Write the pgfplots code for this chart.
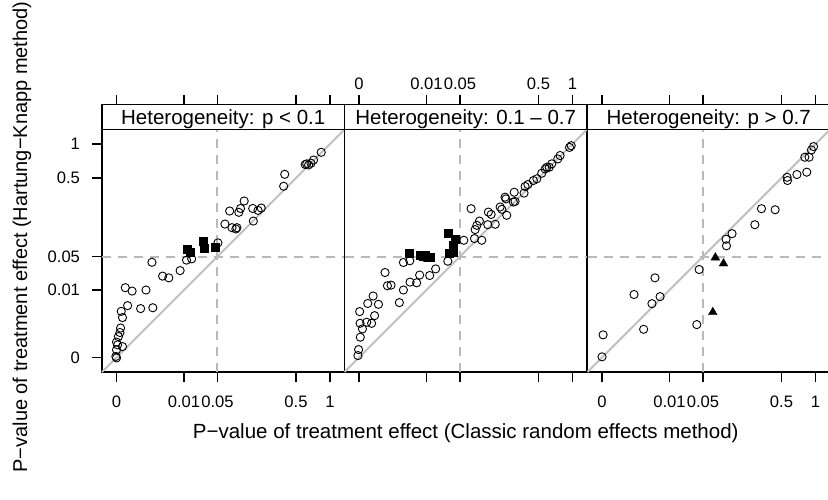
\documentclass[border=0pt]{standalone}
\usepackage{pgfplots}
\pgfplotsset{compat=1.18}
\usepackage{fontspec}
\setmainfont{Liberation Sans}
% All coordinates are on the fourth-root scale: t = p^(1/4)
% tick positions: 0 -> 0, 0.01 -> 0.3162, 0.05 -> 0.4729, 0.5 -> 0.8409, 1 -> 1
\begin{document}
\begin{tikzpicture}
\useasboundingbox (0pt,0pt) rectangle (828pt,499pt);
\pgfplotsset{
  panel/.style={
    scale only axis, width=242.5pt, height=267.5pt,
    xmin=-0.068, xmax=1.068, ymin=-0.068, ymax=1.185,
    anchor=south west, clip=false,
    axis line style={line width=1.1pt},
    tick align=outside, major tick length=9.5pt,
    tick style={black, line width=1.1pt},
    xtick={0,0.3162,0.4729,0.8409,1},
    xticklabels={0,0.01,0.05,0.5,1},
    ytick={0,0.3162,0.4729,0.8409,1},
    yticklabels={0,0.01,0.05,0.5,1},
    tick label style={font=\fontsize{16.6}{18}\selectfont},
    yticklabel style={xshift=-9pt},
  },
  circ/.style={only marks, mark=o, mark size=4.1pt, mark options={black, line width=0.9pt}},
  sq/.style={only marks, mark=square*, mark size=4pt, mark options={black, fill=black}},
  tri/.style={only marks, mark=triangle*, mark size=5pt, mark options={black, fill=black}},
  diag/.style={color=black!25, line width=2pt},
  dash/.style={color=black!27, line width=2pt, dash pattern=on 9pt off 7pt},
}
\newcommand{\refl}{%
  \addplot[diag] coordinates {(-0.068,-0.068) (1.068,1.068)};
  \addplot[dash] coordinates {(0.4729,-0.068) (0.4729,1.068)};
  \addplot[dash] coordinates {(-0.068,0.4729) (1.068,0.4729)};
  \draw[line width=1.1pt] (axis cs:-0.068,1.068) -- (axis cs:1.068,1.068);
}
\newcommand{\striplabel}[1]{\node[anchor=base, font=\fontsize{20.5}{24}\selectfont] at (axis cs:0.5,1.091) {#1};}

% ---------- Left panel ----------
\begin{axis}[panel, at={(102pt,127pt)}, xtick pos=both, xticklabel pos=lower, ytick pos=left,
  xticklabel style={yshift=-11pt}]
\refl
\addplot[circ] table {
x y
0.959 0.961
0.923 0.925
0.891 0.907
0.900 0.902
0.911 0.910
0.884 0.904
0.788 0.858
0.783 0.802
0.598 0.733
0.581 0.698
0.573 0.680
0.530 0.686
0.638 0.698
0.663 0.689
0.678 0.700
0.641 0.639
0.508 0.625
0.541 0.608
0.559 0.602
0.564 0.608
0.475 0.537
0.352 0.462
0.328 0.456
0.298 0.407
0.245 0.373
0.216 0.381
0.166 0.446
0.041 0.327
0.073 0.311
0.138 0.316
0.052 0.243
0.113 0.229
0.170 0.233
0.022 0.216
0.028 0.187
0.019 0.138
0.016 0.117
0.009 0.098
0.000 0.072
0.005 0.059
0.028 0.051
0.000 0.036
-0.003 0.005
0.000 -0.002
};
\addplot[sq] table {
x y
0.408 0.543
0.333 0.507
0.344 0.493
0.413 0.513
0.464 0.515
};
\striplabel{Heterogeneity: p < 0.1}
\end{axis}

% ---------- Middle panel ----------
\begin{axis}[panel, at={(344.5pt,127pt)}, xtick pos=both, xticklabel pos=upper, ytick=\empty,
  xticklabel style={yshift=2pt}]
\refl
\addplot[circ] table {
x y
0.994 0.992
0.986 0.984
0.942 0.946
0.931 0.930
0.903 0.907
0.891 0.891
0.872 0.883
0.880 0.891
0.856 0.863
0.833 0.837
0.817 0.829
0.791 0.810
0.778 0.801
0.773 0.770
0.727 0.774
0.731 0.731
0.723 0.728
0.684 0.751
0.688 0.743
0.669 0.694
0.661 0.705
0.692 0.666
0.638 0.624
0.619 0.670
0.606 0.681
0.603 0.622
0.564 0.639
0.552 0.619
0.544 0.599
0.541 0.557
0.575 0.549
0.491 0.549
0.525 0.697
0.416 0.451
0.359 0.415
0.331 0.384
0.284 0.386
0.270 0.350
0.239 0.353
0.208 0.316
0.189 0.257
0.238 0.453
0.208 0.445
0.309 0.468
0.122 0.398
0.133 0.336
0.150 0.339
0.066 0.288
0.041 0.253
0.091 0.249
0.003 0.215
0.073 0.196
0.059 0.160
0.036 0.165
0.005 0.160
0.016 0.134
0.006 0.095
-0.002 0.037
-0.005 0.009
};
\addplot[sq] table {
x y
0.416 0.580
0.450 0.552
0.439 0.526
0.442 0.495
0.422 0.490
0.236 0.487
0.286 0.481
0.309 0.477
0.333 0.471
0.302 0.474
};
\striplabel{Heterogeneity: 0.1 – 0.7}
\end{axis}

% ---------- Right panel ----------
\begin{axis}[panel, at={(587.5pt,127pt)}, xtick pos=both, xticklabel pos=lower, ytick=\empty,
  xticklabel style={yshift=-11pt}]
\refl
\addplot[circ] table {
x y
0.991 0.988
0.981 0.972
0.950 0.938
0.970 0.938
0.867 0.844
0.869 0.829
0.913 0.857
0.959 0.868
0.747 0.697
0.811 0.692
0.716 0.622
0.609 0.580
0.581 0.554
0.583 0.523
0.455 0.412
0.248 0.373
0.150 0.295
0.272 0.285
0.234 0.252
0.195 0.132
0.444 0.154
0.005 0.106
0.000 0.003
};
\addplot[tri] table {
x y
0.531 0.468
0.569 0.440
0.519 0.212
};
\striplabel{Heterogeneity: p > 0.7}
\end{axis}

% ---------- Axis titles ----------
\node[anchor=base, font=\fontsize{20.5}{24}\selectfont] at (465.75pt,61pt) {P−value of treatment effect (Classic random effects method)};
\node[anchor=base, rotate=90, font=\fontsize{20}{24}\selectfont] at (27pt,262pt) {P−value of treatment effect (Hartung−Knapp method)};
\end{tikzpicture}
\end{document}
